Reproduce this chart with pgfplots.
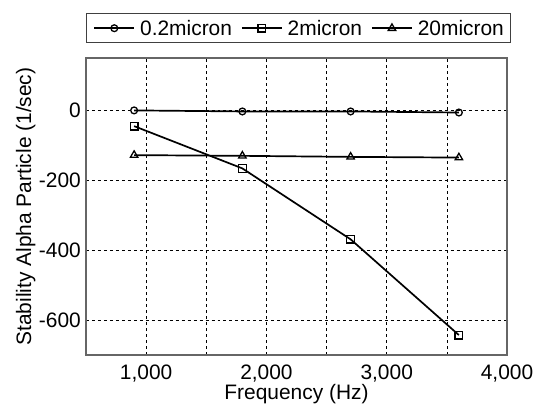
\documentclass[border=0pt]{standalone}
\usepackage{fontspec}
\setmainfont{Liberation Sans}
\usepackage{pgfplots}
\pgfplotsset{compat=1.18}
\begin{document}
\begin{tikzpicture}
\begin{axis}[
  scale only axis, width=421bp, height=297bp,
  xmin=500, xmax=4000, ymin=-700, ymax=150,
  xtick={1000,2000,3000,4000}, minor xtick={1500,2500,3500},
  ytick={-600,-400,-200,0},
  grid=both,
  major grid style={dashed, black, line width=0.7bp},
  minor grid style={dashed, black, line width=0.7bp},
  major tick length=0pt, minor tick length=0pt,
  axis line style={black!60, line width=1.2bp},
  tick label style={font=\fontsize{21}{25}\selectfont, inner sep=0pt},
  /pgf/number format/assume math mode=true,
  /pgf/number format/1000 sep={,},
  xticklabel style={anchor=base, yshift=-25bp},
  yticklabel style={anchor=east, xshift=-5bp},
  xlabel={Frequency (Hz)},
  ylabel={Stability Alpha Particle (1/sec)},
  xlabel style={font=\fontsize{21}{25}\selectfont, inner sep=0pt, at={(axis description cs:0.5,-0.1515)}, anchor=base},
  ylabel style={font=\fontsize{21}{25}\selectfont, inner sep=0pt, at={(axis description cs:-0.1306,0.5)}, anchor=base},
  legend columns=3,
  legend style={at={(axis description cs:0,1)}, anchor=south west, yshift=15bp,
    draw=black!75, line width=0.9bp,
    font=\fontsize{21}{25}\selectfont, inner xsep=7bp, inner ysep=6bp,
    nodes={inner sep=0pt},
    /tikz/every odd column/.style={column sep=5bp},
    /tikz/every even column/.style={column sep=9bp}},
  legend image code/.code={\draw[mark repeat=2,mark phase=2,#1] plot coordinates {(0bp,0bp)(20bp,0bp)(40bp,0bp)};},
  every axis plot/.append style={black, line width=1.7bp, mark options={solid, fill=white, line width=1.3bp}},
]
\addplot[mark=o, mark size=3.4bp] coordinates {(900,0) (1800,-3) (2700,-3) (3600,-6)};
\addlegendentry{0.2micron}
\addplot[mark=square, mark size=3.8bp] coordinates {(900,-45) (1800,-166) (2700,-369) (3600,-643)};
\addlegendentry{2micron}
\addplot[mark=triangle, mark size=4.3bp] coordinates {(900,-128) (1800,-130) (2700,-133) (3600,-135)};
\addlegendentry{20micron}
\coordinate (sw) at (rel axis cs:0,0);
\coordinate (ne) at (rel axis cs:1,1);
\end{axis}
\pgfresetboundingbox
\path[use as bounding box] ([shift={(-86bp,-55bp)}]sw) rectangle ([shift={(35bp,58bp)}]ne);
\end{tikzpicture}
\end{document}
